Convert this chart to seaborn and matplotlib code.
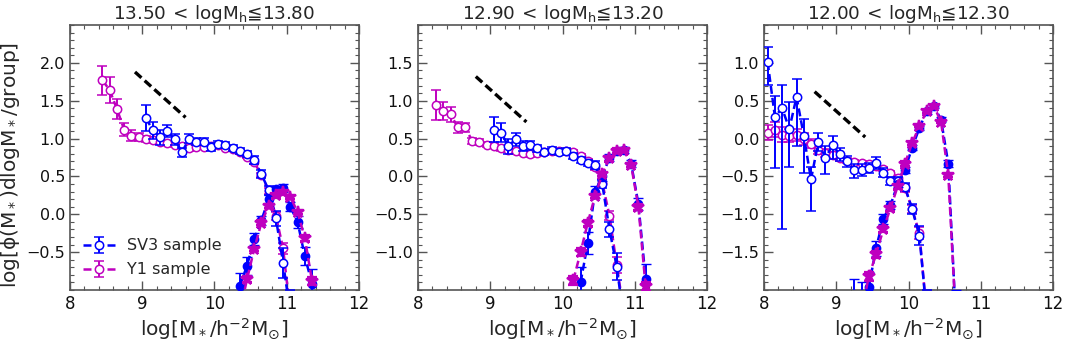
import numpy as np
import pandas as pd
import seaborn as sns
import matplotlib
matplotlib.use("Agg")
import matplotlib.pyplot as plt
from matplotlib.ticker import MultipleLocator

# ---------------- data ----------------
TITLES = ["13.50$\\,<\\,$logM$_{\\rm h}$≦13.80",
          "12.90$\\,<\\,$logM$_{\\rm h}$≦13.20",
          "12.00$\\,<\\,$logM$_{\\rm h}$≦12.30"]
XTICKS = [8, 9, 10, 11, 12]
YTICKS_P1 = [-0.5, 0.0, 0.5, 1.0, 1.5, 2.0]
YTICKS_P2 = [-1.0, -0.5, 0.0, 0.5, 1.0, 1.5]
YTICKS_P3 = [-1.5, -1.0, -0.5, 0.0, 0.5, 1.0]
YLIM_P1 = (-1.0, 2.5)
YLIM_P2 = (-1.5, 2.0)
YLIM_P3 = (-2.0, 1.5)
LEGEND_LABELS = ["SV3 sample", "Y1 sample"]

# reference slope segment ((x0, x1), (y0, y1)) per panel
SLOPE_P1 = [(8.9, 9.6), (1.88, 1.28)]
SLOPE_P2 = [(8.8, 9.5), (1.32, 0.72)]
SLOPE_P3 = [(8.7, 9.4), (0.62, 0.02)]

# ---- panel 1 ----
P1_Y1_X = [8.45, 8.55, 8.65, 8.75, 8.85, 8.95, 9.05, 9.15, 9.25, 9.35, 9.45, 9.55, 9.65, 9.75,
           9.85, 9.95, 10.05, 10.15, 10.25, 10.35, 10.45, 10.55, 10.65, 10.75, 10.85, 10.95, 11.05]
P1_Y1_Y = [1.77, 1.64, 1.39, 1.12, 1.04, 1.02, 1.00, 0.98, 0.96, 0.94, 0.92, 0.90, 0.87, 0.89,
           0.89, 0.90, 0.91, 0.88, 0.86, 0.82, 0.76, 0.69, 0.52, 0.31, -0.02, -0.45, -1.30]
P1_Y1_E = [0.19, 0.17, 0.13, 0.09, 0.07, 0.05, 0.04, 0.04, 0.03, 0.03, 0.03, 0.03, 0.03, 0.03,
           0.03, 0.02, 0.02, 0.02, 0.02, 0.02, 0.02, 0.03, 0.03, 0.04, 0.05, 0.07, 0.12]
P1_SV3_X = [9.05, 9.15, 9.25, 9.35, 9.45, 9.55, 9.65, 9.75, 9.85, 9.95, 10.05, 10.15, 10.25,
            10.35, 10.45, 10.55, 10.65, 10.75, 10.85, 10.95, 11.05]
P1_SV3_Y = [1.27, 1.11, 1.02, 1.10, 0.99, 0.82, 1.00, 0.96, 0.96, 0.89, 0.93, 0.91, 0.87,
            0.83, 0.80, 0.72, 0.53, 0.32, -0.05, -0.64, -1.30]
P1_SV3_E = [0.17, 0.11, 0.10, 0.08, 0.07, 0.06, 0.06, 0.05, 0.05, 0.05, 0.04, 0.04, 0.04,
            0.04, 0.04, 0.05, 0.05, 0.06, 0.10, 0.20, 0.30]
P1_SV3C_X = [10.35, 10.45, 10.55, 10.65, 10.75, 10.85, 10.95, 11.05, 11.15, 11.25, 11.35]
P1_SV3C_Y = [-0.95, -0.68, -0.33, -0.08, 0.20, 0.33, 0.35, 0.10, -0.10, -0.55, -0.92]
P1_SV3C_E = [0.18, 0.12, 0.08, 0.06, 0.05, 0.05, 0.05, 0.06, 0.08, 0.12, 0.20]
P1_Y1C_X = [10.35, 10.45, 10.55, 10.65, 10.75, 10.85, 10.95, 11.05, 11.15, 11.25, 11.35]
P1_Y1C_Y = [-1.30, -0.86, -0.46, -0.11, 0.11, 0.25, 0.29, 0.23, 0.03, -0.31, -0.88]
P1_Y1C_E = [0.06, 0.04, 0.03, 0.03, 0.03, 0.03, 0.03, 0.03, 0.03, 0.04, 0.05]

# ---- panel 2 ----
P2_Y1_X = [8.25, 8.35, 8.45, 8.55, 8.65, 8.75, 8.85, 8.95, 9.05, 9.15, 9.25, 9.35, 9.45, 9.55,
           9.65, 9.75, 9.85, 9.95, 10.05, 10.15, 10.25, 10.35, 10.45, 10.55, 10.65, 10.75, 10.85]
P2_Y1_Y = [0.94, 0.86, 0.82, 0.65, 0.65, 0.47, 0.45, 0.42, 0.40, 0.37, 0.35, 0.33, 0.31, 0.29,
           0.31, 0.32, 0.33, 0.33, 0.33, 0.32, 0.27, 0.20, 0.12, -0.08, -0.52, -1.17, -1.80]
P2_Y1_E = [0.20, 0.12, 0.10, 0.07, 0.06, 0.04, 0.04, 0.03, 0.03, 0.03, 0.03, 0.03, 0.03, 0.03,
           0.03, 0.03, 0.03, 0.03, 0.03, 0.03, 0.03, 0.03, 0.04, 0.04, 0.06, 0.10, 0.20]
P2_SV3_X = [9.05, 9.15, 9.25, 9.35, 9.45, 9.55, 9.65, 9.75, 9.85, 9.95, 10.05, 10.15, 10.25,
            10.35, 10.45, 10.55, 10.65, 10.75, 10.85]
P2_SV3_Y = [0.62, 0.58, 0.40, 0.49, 0.40, 0.41, 0.37, 0.32, 0.35, 0.32, 0.33, 0.27, 0.22,
            0.18, 0.15, -0.10, -0.70, -1.19, -1.90]
P2_SV3_E = [0.16, 0.12, 0.10, 0.09, 0.07, 0.06, 0.05, 0.04, 0.04, 0.04, 0.04, 0.04, 0.04,
            0.04, 0.05, 0.05, 0.10, 0.18, 0.30]
P2_SV3C_X = [10.25, 10.35, 10.45, 10.55, 10.65, 10.75, 10.85, 10.95, 11.05, 11.15]
P2_SV3C_Y = [-1.40, -0.88, -0.20, 0.00, 0.25, 0.33, 0.35, 0.17, -0.36, -1.35]
P2_SV3C_E = [0.20, 0.15, 0.08, 0.06, 0.04, 0.04, 0.04, 0.05, 0.08, 0.20]
P2_Y1C_X = [10.15, 10.25, 10.35, 10.45, 10.55, 10.65, 10.75, 10.85, 10.95, 11.05, 11.15]
P2_Y1C_Y = [-1.37, -1.00, -0.61, -0.26, 0.03, 0.24, 0.34, 0.35, 0.15, -0.40, -1.45]
P2_Y1C_E = [0.06, 0.05, 0.04, 0.03, 0.03, 0.03, 0.03, 0.03, 0.03, 0.04, 0.06]

# ---- panel 3 ----
P3_Y1_X = [8.05, 8.15, 8.25, 8.35, 8.45, 8.55, 8.65, 8.75, 8.85, 8.95, 9.05, 9.15, 9.25, 9.35,
           9.45, 9.55, 9.65, 9.75, 9.85, 9.95, 10.05, 10.15, 10.25]
P3_Y1_Y = [0.08, 0.12, 0.05, 0.04, 0.05, 0.00, -0.07, -0.15, -0.19, -0.22, -0.26, -0.29, -0.31,
           -0.32, -0.34, -0.36, -0.40, -0.46, -0.52, -0.65, -0.93, -1.25, -2.30]
P3_Y1_E = [0.10, 0.10, 0.10, 0.09, 0.08, 0.08, 0.06, 0.05, 0.05, 0.04, 0.04, 0.03, 0.03, 0.03,
           0.03, 0.03, 0.03, 0.03, 0.04, 0.05, 0.05, 0.08, 0.30]
P3_SV3_X = [8.05, 8.15, 8.25, 8.35, 8.45, 8.55, 8.65, 8.75, 8.85, 8.95, 9.05, 9.15, 9.25, 9.35,
            9.45, 9.55, 9.65, 9.75, 9.85, 9.95, 10.05, 10.15, 10.25]
P3_SV3_Y = [1.01, 0.29, 0.40, 0.13, 0.55, 0.04, -0.54, -0.05, -0.25, -0.09, -0.21, -0.30, -0.42,
            -0.42, -0.39, -0.32, -0.45, -0.56, -0.56, -0.64, -0.93, -1.28, -2.30]
P3_SV3_ELO = [0.30, 0.68, 1.60, 0.50, 0.65, 0.50, 0.42, 0.12, 0.22, 0.18, 0.08, 0.07, 0.10,
              0.08, 0.07, 0.08, 0.06, 0.05, 0.05, 0.05, 0.07, 0.12, 0.30]
P3_SV3_EHI = [0.20, 0.27, 0.31, 0.35, 0.24, 0.22, 0.17, 0.12, 0.15, 0.13, 0.08, 0.07, 0.08,
              0.08, 0.07, 0.08, 0.06, 0.05, 0.05, 0.05, 0.07, 0.12, 0.30]
P3_SV3C_X = [9.25, 9.35, 9.45, 9.55, 9.65, 9.75, 9.85, 9.95, 10.05, 10.15, 10.25, 10.35, 10.45,
             10.55, 10.65]
P3_SV3C_Y = [-2.40, -2.20, -1.96, -1.45, -1.06, -0.88, -0.60, -0.41, -0.12, 0.14, 0.36, 0.43,
             0.25, -0.33, -2.30]
P3_SV3C_E = [0.55, 0.30, 0.20, 0.10, 0.07, 0.05, 0.04, 0.04, 0.03, 0.03, 0.03, 0.03, 0.03,
             0.05, 0.30]
P3_Y1C_X = [9.35, 9.45, 9.55, 9.65, 9.75, 9.85, 9.95, 10.05, 10.15, 10.25, 10.35, 10.45, 10.55,
            10.65]
P3_Y1C_Y = [-2.30, -1.82, -1.53, -1.20, -0.92, -0.63, -0.33, -0.06, 0.17, 0.36, 0.43, 0.22,
            -0.48, -2.30]
P3_Y1C_E = [0.10, 0.06, 0.05, 0.04, 0.03, 0.03, 0.03, 0.02, 0.02, 0.02, 0.02, 0.02, 0.03, 0.10]

# ---------------- style ----------------
sns.set_theme(style="ticks")
plt.rcParams["font.family"] = ["DejaVu Sans"]
plt.rcParams.update({
    "xtick.direction": "in", "ytick.direction": "in",
    "xtick.top": True, "ytick.right": True,
    "xtick.major.size": 6.5, "ytick.major.size": 6.5,
    "xtick.minor.size": 3.2, "ytick.minor.size": 3.2,
    "xtick.major.width": 1.0, "ytick.major.width": 1.0,
    "xtick.minor.width": 0.8, "ytick.minor.width": 0.8,
    "xtick.color": "#555555", "ytick.color": "#555555",
    "xtick.labelcolor": "#111111", "ytick.labelcolor": "#111111",
    "xtick.labelsize": 12, "ytick.labelsize": 11.5,
    "axes.edgecolor": "#555555", "axes.linewidth": 1.2,
    "mathtext.fontset": "dejavusans",
})

BLUE = "#0000ff"
MAG = "#bf00bf"

fig = plt.figure(figsize=(10.68, 3.45), dpi=100)
lefts = [0.0655, 0.3914, 0.7154]
axes = [fig.add_axes([l, 0.1594, 0.2706, 0.768]) for l in lefts]

panels = [
    dict(y1=(P1_Y1_X, P1_Y1_Y, P1_Y1_E), sv3=(P1_SV3_X, P1_SV3_Y, P1_SV3_E),
         sv3c=(P1_SV3C_X, P1_SV3C_Y, P1_SV3C_E), y1c=(P1_Y1C_X, P1_Y1C_Y, P1_Y1C_E),
         slope=SLOPE_P1, yt=YTICKS_P1, yl=YLIM_P1),
    dict(y1=(P2_Y1_X, P2_Y1_Y, P2_Y1_E), sv3=(P2_SV3_X, P2_SV3_Y, P2_SV3_E),
         sv3c=(P2_SV3C_X, P2_SV3C_Y, P2_SV3C_E), y1c=(P2_Y1C_X, P2_Y1C_Y, P2_Y1C_E),
         slope=SLOPE_P2, yt=YTICKS_P2, yl=YLIM_P2),
    dict(y1=(P3_Y1_X, P3_Y1_Y, P3_Y1_E), sv3=(P3_SV3_X, P3_SV3_Y, [P3_SV3_ELO, P3_SV3_EHI]),
         sv3c=(P3_SV3C_X, P3_SV3C_Y, P3_SV3C_E), y1c=(P3_Y1C_X, P3_Y1C_Y, P3_Y1C_E),
         slope=SLOPE_P3, yt=YTICKS_P3, yl=YLIM_P3),
]

ebkw = dict(ls=(0, (3.2, 1.6)), lw=1.8, capsize=3.5, elinewidth=1.4, capthick=1.4)

for i, (ax, p) in enumerate(zip(axes, panels)):
    # slope reference line via seaborn
    sdf = pd.DataFrame({"x": p["slope"][0], "y": p["slope"][1]})
    sns.lineplot(data=sdf, x="x", y="y", ax=ax, color="black", lw=2.4,
                 estimator=None, sort=False, zorder=6)
    ax.lines[-1].set_dashes((2.6, 1.3))

    x, y, e = p["y1"]
    h_y1 = ax.errorbar(x, y, yerr=e, color=MAG, marker="o", ms=6, mfc="white",
                       mec=MAG, mew=1.1, zorder=2, **ebkw)
    x, y, e = p["sv3"]
    h_sv3 = ax.errorbar(x, y, yerr=e, color=BLUE, marker="o", ms=6, mfc="white",
                        mec=BLUE, mew=1.1, zorder=3, **ebkw)
    x, y, e = p["sv3c"]
    ax.errorbar(x, y, yerr=e, color=BLUE, marker="o", ms=6, mfc=BLUE,
                mec=BLUE, mew=1.0, zorder=4, **ebkw)
    x, y, e = p["y1c"]
    ax.errorbar(x, y, yerr=e, color=MAG, marker="*", ms=9, mfc=MAG,
                mec=MAG, mew=1.6, zorder=5, **ebkw)

    ax.set_xlim(8, 12)
    ax.set_ylim(*p["yl"])
    ax.set_xticks(XTICKS)
    ax.set_yticks(p["yt"])
    ax.xaxis.set_minor_locator(MultipleLocator(0.2))
    ax.yaxis.set_minor_locator(MultipleLocator(0.1))
    ax.tick_params(which="both", direction="in", top=True, right=True)
    ax.set_title(TITLES[i], fontsize=13.2, pad=4)
    ax.set_xlabel("log[M$_*$/h$^{-2}$M$_{\\odot}$]", fontsize=14.5, labelpad=2)
    if i == 0:
        ax.set_ylabel("log[ϕ(M$_*$)dlogM$_*$/group]", fontsize=14.5)
        ax.yaxis.set_label_coords(-0.165, 0.47)
        ax.legend([h_sv3, h_y1], LEGEND_LABELS, loc="lower left", frameon=False,
                  fontsize=11.5, handlelength=2.0, borderaxespad=0.4,
                  bbox_to_anchor=(0.0, 0.0), labelspacing=0.55)
    else:
        ax.set_ylabel("")

fig.savefig("out.png", dpi=100)
